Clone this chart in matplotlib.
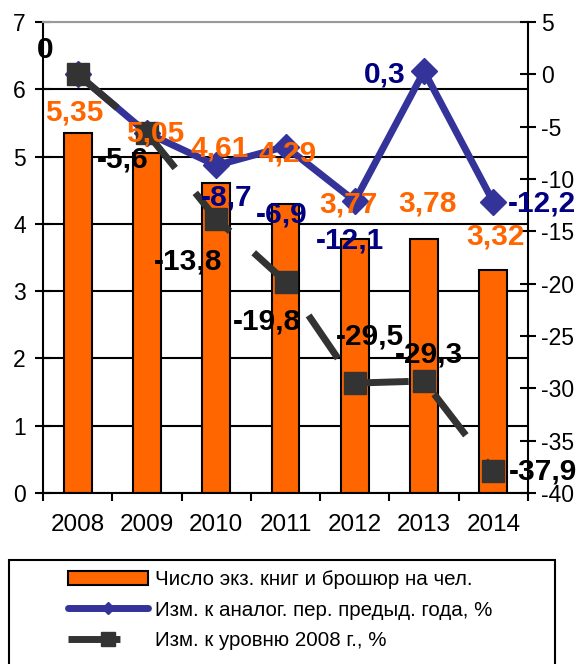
import numpy as np
import matplotlib.pyplot as plt
from matplotlib.lines import Line2D
from matplotlib.patches import Rectangle, Patch

plt.rcParams['font.family'] = ['Liberation Sans', 'DejaVu Sans']
plt.rcParams['axes.unicode_minus'] = False
plt.rcParams['lines.scale_dashes'] = False

# --- данные ---
years = ['2008', '2009', '2010', '2011', '2012', '2013', '2014']
books_per_person = [5.35, 5.05, 4.61, 4.29, 3.77, 3.78, 3.32]
chg_prev_year = [0.0, -5.6, -8.7, -6.9, -12.1, 0.3, -12.2]
chg_to_2008 = [0.0, -5.6, -13.8, -19.8, -29.5, -29.3, -37.9]

legend_labels = ['Число экз. книг и брошюр на чел.',
                 'Изм. к аналог. пер. предыд. года, %',
                 'Изм. к уровню 2008 г., %']

# смещения подписей (пиксели)
bar_lbl_off = [(-3, 21), (8, 20), (3, 34), (2, 51), (-6, 35), (3, 35), (2, 33)]
blue_lbl_off = [None, None, (10, -32), (-4, -68), (-5, -40), (-39, -3), (49, -1)]
black_lbl_off = [(-32, 24), (-24, -27), (-28, -43), (-19, -40), (15, 47), (5, 27), (50, 0)]

ORANGE = '#FF6600'
BLUE = '#333399'
NAVY = '#000080'
DARK = '#333333'


def fmt(v, nd):
    if v == 0:
        return '0'
    return f'{v:.{nd}f}'.replace('.', ',')


fig = plt.figure(figsize=(5.83, 6.64), dpi=100)
ax = fig.add_axes([43 / 583, 1 - 493 / 664, 485 / 583, 471 / 664])
ax2 = ax.twinx()

x = np.arange(len(years))
ax.bar(x, books_per_person, width=0.4, color=ORANGE, edgecolor='black', linewidth=1.5, zorder=2)
ax.set_xlim(-0.5, 6.5)
ax.set_ylim(0, 7)
ax.set_yticks(range(8))
ax.set_axisbelow(True)
ax.yaxis.grid(True, color='black', linewidth=1.5)
ax.get_ygridlines()[-1].set_color('#999999')

ax.set_xticks(x)
ax.set_xticklabels(years)
ax.set_xticks(np.arange(-0.5, 7, 1), minor=True)
ax.tick_params(axis='x', which='major', length=0, pad=15, labelsize=17.5)
ax.tick_params(axis='x', which='minor', length=6, width=1.5, direction='out')
ax.tick_params(axis='y', direction='inout', length=11, width=1.5, pad=7, labelsize=16.5)

for s in ['left', 'bottom']:
    ax.spines[s].set_linewidth(1.5)
ax.spines['top'].set_color('#999999')
ax.spines['top'].set_linewidth(1.5)
ax.spines['right'].set_visible(False)

ax2.set_ylim(-40, 5)
ax2.set_yticks(range(-40, 6, 5))
ax2.tick_params(axis='y', direction='inout', length=11, width=1.5, pad=4, labelsize=16.5)
for s in ['left', 'bottom', 'top']:
    ax2.spines[s].set_visible(False)
ax2.spines['right'].set_linewidth(1.5)

ax2.plot(x, chg_prev_year, color=BLUE, linewidth=5, marker='D', markersize=13,
         solid_joinstyle='miter', zorder=3)
ax2.plot(x, chg_to_2008, color=DARK, linewidth=5, marker='s', markersize=15.5,
         linestyle=(0, (37.4, 23.0)), zorder=4)

lbl_kw = dict(textcoords='offset pixels', ha='center', va='center',
              fontsize=21.5, fontweight='bold', zorder=10, annotation_clip=False)
for i, v in enumerate(books_per_person):
    ax2.annotate(fmt(v, 2), xy=(i, v), xycoords=ax.transData,
                 xytext=bar_lbl_off[i], color=ORANGE, **lbl_kw)
for i, v in enumerate(chg_prev_year):
    if blue_lbl_off[i] is None:
        continue
    ax2.annotate(fmt(v, 1), xy=(i, v), xytext=blue_lbl_off[i], color=NAVY, **lbl_kw)
for i, v in enumerate(chg_to_2008):
    ax2.annotate(fmt(v, 1), xy=(i, v), xytext=black_lbl_off[i], color='black', **lbl_kw)

# --- легенда ---
handles = [
    Patch(facecolor=ORANGE, edgecolor='black', linewidth=1.5),
    Line2D([], [], color=BLUE, linewidth=5, marker='D', markersize=6,
           solid_capstyle='round'),
    Line2D([], [], color=DARK, linewidth=5, marker='s', markersize=10,
           linestyle=(0, (37.4, 23.0))),
]
fig.legend(handles, legend_labels, loc='upper left',
           bbox_to_anchor=(68 / 583, 1 - 570 / 664), frameon=False,
           fontsize=14.8, handlelength=3.9, handletextpad=0.34,
           labelspacing=0.56, borderpad=0, borderaxespad=0)
fig.patches.append(Rectangle((9 / 583, -0.01), 546 / 583, 104 / 664 + 0.01,
                             transform=fig.transFigure, fill=False,
                             edgecolor='black', linewidth=1.5))

fig.savefig('out.png', dpi=100)
